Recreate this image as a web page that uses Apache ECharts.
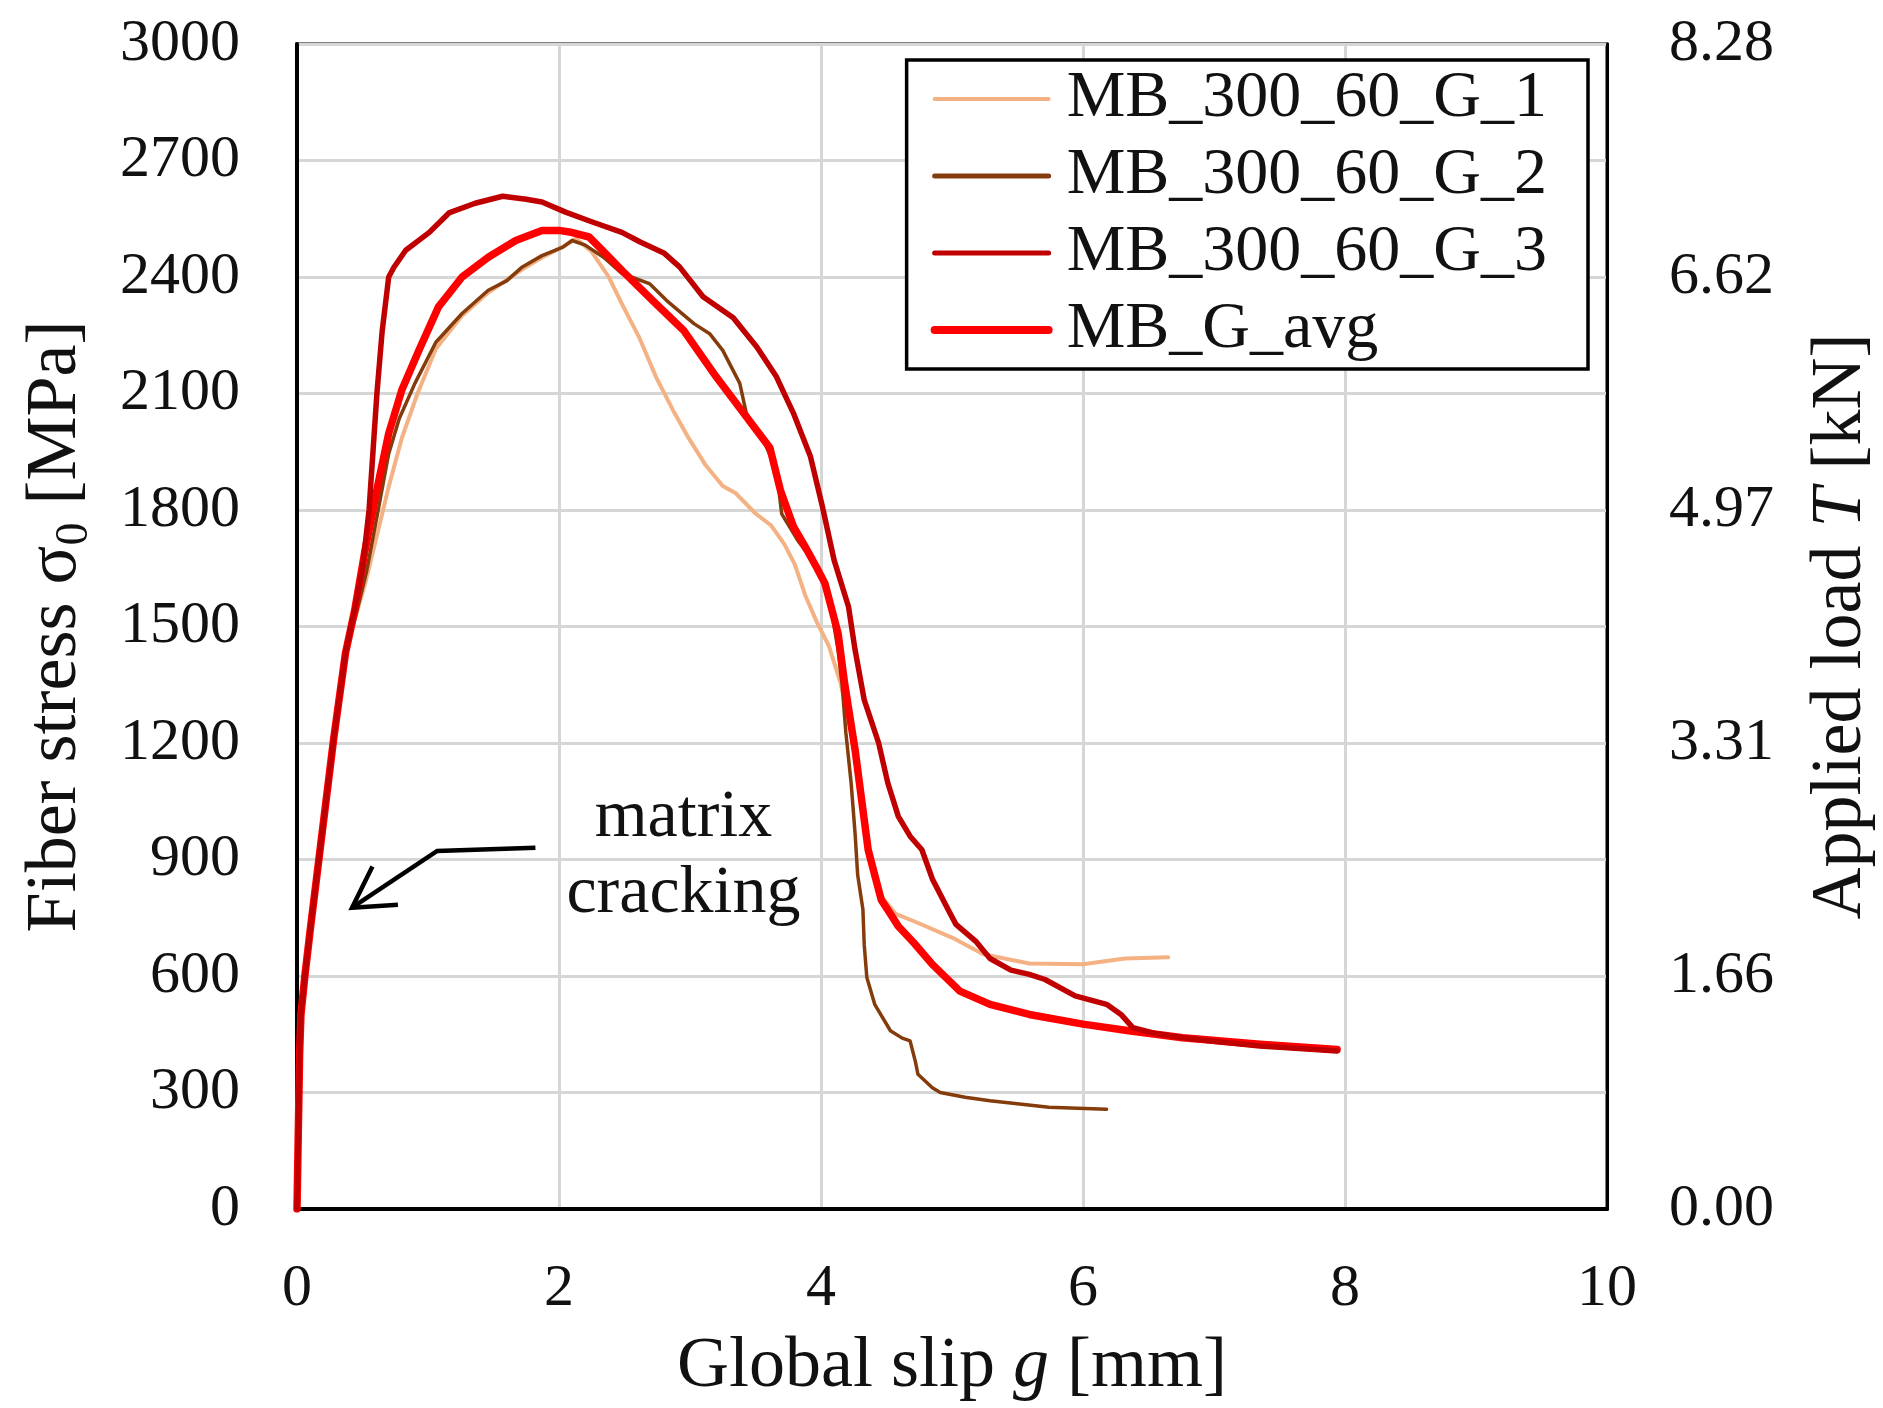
<!DOCTYPE html>
<html>
<head>
<meta charset="utf-8">
<title>Fiber stress vs global slip</title>
<script src="https://cdn.jsdelivr.net/npm/echarts@6/dist/echarts.min.js"></script>
<style>
  html, body { margin: 0; padding: 0; background: #fff; }
  #chart { width: 1883px; height: 1408px; }
</style>
</head>
<body>
<div id="chart"></div>
<script>
// Pull-out curves: [global slip g (mm), fiber stress σ0 (MPa)]
const specimenG1 = [
  [0,0],[0.01,200],[0.02,400],[0.03,500],[0.06,600],[0.10,716],[0.18,936],[0.28,1211],[0.37,1431],
  [0.45,1530],[0.52,1610],[0.60,1720],[0.70,1860],[0.80,1985],[0.92,2100],[1.06,2215],[1.26,2300],
  [1.46,2360],[1.72,2420],[1.87,2450],[2.03,2478],[2.13,2499],[2.25,2465],[2.38,2400],[2.48,2331],
  [2.61,2246],[2.74,2143],[2.87,2057],[2.99,1985],[3.12,1915],[3.25,1862],[3.35,1843],[3.50,1791],
  [3.62,1760],[3.72,1712],[3.80,1660],[3.88,1580],[3.97,1510],[4.06,1450],[4.15,1354],[4.23,1226],
  [4.30,1100],[4.36,940],[4.46,805],[4.57,760],[4.71,741],[5.00,699],[5.24,656],[5.59,632],
  [6.00,630],[6.32,645],[6.65,648]
];
const specimenG2 = [
  [0,0],[0.01,200],[0.02,400],[0.03,500],[0.06,600],[0.10,716],[0.18,936],[0.28,1211],[0.37,1431],
  [0.45,1530],[0.53,1640],[0.62,1800],[0.70,1945],[0.78,2035],[0.90,2126],[1.06,2232],[1.26,2306],
  [1.46,2366],[1.60,2390],[1.72,2426],[1.87,2455],[2.03,2477],[2.10,2494],[2.20,2482],[2.34,2451],
  [2.48,2409],[2.69,2383],[2.82,2340],[3.03,2280],[3.15,2254],[3.25,2211],[3.38,2126],[3.43,2049],
  [3.56,1980],[3.66,1903],[3.70,1790],[3.82,1723],[3.97,1654],[4.05,1600],[4.13,1440],[4.16,1354],
  [4.19,1226],[4.23,1097],[4.26,968],[4.28,860],[4.32,771],[4.33,680],[4.35,596],[4.41,527],
  [4.53,459],[4.62,440],[4.68,433],[4.72,380],[4.74,347],[4.85,312],[4.91,300],[5.10,288],
  [5.29,279],[5.74,262],[6.18,257]
];
const specimenG3 = [
  [0,0],[0.01,200],[0.02,400],[0.03,500],[0.06,600],[0.10,716],[0.18,936],[0.28,1211],[0.37,1431],
  [0.45,1560],[0.50,1650],[0.55,1800],[0.58,1950],[0.61,2100],[0.65,2260],[0.70,2400],[0.74,2425],
  [0.83,2469],[1.01,2515],[1.16,2565],[1.36,2590],[1.57,2608],[1.75,2600],[1.87,2593],[2.05,2567],
  [2.26,2541],[2.48,2515],[2.62,2490],[2.80,2462],[2.92,2426],[3.10,2349],[3.33,2295],[3.51,2220],
  [3.66,2143],[3.79,2049],[3.92,1937],[4.01,1810],[4.10,1671],[4.21,1551],[4.26,1440],[4.33,1311],
  [4.44,1200],[4.51,1097],[4.59,1011],[4.68,960],[4.77,925],[4.85,850],[4.97,771],[5.03,733],
  [5.18,690],[5.29,645],[5.45,615],[5.59,604],[5.71,591],[5.94,549],[6.18,527],[6.29,501],
  [6.38,467],[6.55,452],[6.76,441],[7.05,430],[7.35,420],[7.65,413],[7.94,407]
];
const averageG = [
  [0,0],[0.01,200],[0.02,400],[0.03,500],[0.06,600],[0.10,716],[0.18,936],[0.28,1211],[0.37,1431],
  [0.44,1541],[0.52,1697],[0.62,1869],[0.70,1997],[0.80,2109],[0.93,2211],[1.08,2323],[1.26,2400],
  [1.46,2451],[1.67,2494],[1.87,2520],[2.00,2520],[2.08,2516],[2.23,2503],[2.33,2469],[2.48,2417],
  [2.74,2331],[2.95,2263],[3.20,2143],[3.41,2049],[3.61,1960],[3.69,1851],[3.79,1757],[3.88,1705],
  [3.97,1650],[4.03,1611],[4.13,1483],[4.18,1354],[4.26,1183],[4.31,1054],[4.36,925],[4.41,860],
  [4.46,796],[4.53,760],[4.59,728],[4.71,685],[4.85,630],[5.06,561],[5.29,527],[5.59,501],
  [6.00,476],[6.35,459],[6.76,441],[7.35,424],[7.94,411]
];

const seriesNames = ['MB_300_60_G_1', 'MB_300_60_G_2', 'MB_300_60_G_3', 'MB_G_avg'];

// Axis ticks
const slipTicks = [0, 2, 4, 6, 8, 10];
const stressTicks = [0, 300, 600, 900, 1200, 1500, 1800, 2100, 2400, 2700, 3000];
const loadTickLabels = ['0.00', '1.66', '3.31', '4.97', '6.62', '8.28'];

// "matrix cracking" note: arrow polyline (tail -> bend -> tip) and text anchor, in data units
const noteArrow = [[1.82, 930], [1.07, 922], [0.42, 776]];
const noteText = [2.95, 908];

const SERIF = '"Liberation Serif", "Times New Roman", serif';
const INK = '#111';

const chart = echarts.init(document.getElementById('chart'), null, { renderer: 'canvas' });

function lineSeries(name, data, color, width, z) {
  return {
    name: name,
    type: 'line',
    data: data,
    symbol: 'none',
    showSymbol: false,
    smooth: false,
    z: z,
    lineStyle: { color: color, width: width, join: 'round', cap: 'round' },
    itemStyle: { color: color },
    emphasis: { disabled: true }
  };
}

function renderNote(params, api) {
  const pts = noteArrow.map(p => api.coord(p));
  const tip = pts[pts.length - 1];
  const prev = pts[pts.length - 2];
  const ang = Math.atan2(prev[1] - tip[1], prev[0] - tip[0]);
  const head = 46, spread = Math.PI / 6;
  const w1 = [tip[0] + head * Math.cos(ang - spread), tip[1] + head * Math.sin(ang - spread)];
  const w2 = [tip[0] + head * Math.cos(ang + spread), tip[1] + head * Math.sin(ang + spread)];
  const lineStyle = { stroke: '#000', lineWidth: 4.5, fill: null, lineJoin: 'miter', lineCap: 'butt' };
  const t = api.coord(noteText);
  return {
    type: 'group',
    children: [
      { type: 'polyline', shape: { points: pts }, style: lineStyle },
      { type: 'polyline', shape: { points: [w1, tip, w2] }, style: lineStyle },
      {
        type: 'text', x: t[0], y: t[1],
        style: {
          text: 'matrix\ncracking', fill: INK, fontFamily: SERIF, fontSize: 68,
          lineHeight: 76, align: 'center', verticalAlign: 'middle'
        }
      }
    ]
  };
}

const option = {
  backgroundColor: '#fff',
  animation: false,
  grid: {
    left: 297, right: 276, top: 44, bottom: 199,
    show: true, borderColor: '#000', borderWidth: 3,
    outerBoundsMode: 'none'
  },
  legend: {
    data: seriesNames.map((n, i) => ({
      name: n,
      lineStyle: { width: [4, 5, 5, 8][i] },
      itemStyle: { opacity: 0 }
    })),
    orient: 'vertical',
    right: 295, top: 60,
    itemWidth: 114, itemHeight: 2, itemGap: 11,
    padding: [6, 41, 6, 24],
    backgroundColor: '#fff',
    borderColor: '#000', borderWidth: 3.5,
    selectedMode: false,
    textStyle: {
      fontFamily: SERIF, fontSize: 66, color: INK, lineHeight: 66,
      padding: [0, 0, 0, 13]
    }
  },
  xAxis: {
    type: 'value', min: 0, max: 10, interval: 2,
    name: '{t|Global slip }{i|g}{t| [mm]}',
    nameLocation: 'middle', nameGap: 122,
    nameTextStyle: {
      rich: {
        t: { fontFamily: SERIF, fontSize: 72, color: INK },
        i: { fontFamily: SERIF, fontSize: 72, color: INK, fontStyle: 'italic' }
      }
    },
    axisLine: { show: true, onZero: false, lineStyle: { color: '#000', width: 4 } },
    axisTick: { show: false },
    axisLabel: {
      margin: 50, fontFamily: SERIF, fontSize: 60, color: INK,
      formatter: v => (slipTicks.indexOf(v) >= 0 ? String(v) : '')
    },
    splitLine: { show: true, lineStyle: { color: '#d6d6d6', width: 3 } }
  },
  yAxis: [
    {
      type: 'value', min: 0, max: 3000, interval: 300, position: 'left',
      name: '{t|Fiber stress σ}{s|0}{t| [MPa]}',
      nameLocation: 'middle', nameGap: 199, nameRotate: 90,
      nameTextStyle: {
        rich: {
          t: { fontFamily: SERIF, fontSize: 72, color: INK, lineHeight: 84 },
          s: { fontFamily: SERIF, fontSize: 46, color: INK, verticalAlign: 'bottom', lineHeight: 84 }
        }
      },
      axisLine: { show: true, onZero: false, lineStyle: { color: '#000', width: 4 } },
      axisTick: { show: false },
      axisLabel: {
        margin: 57, fontFamily: SERIF, fontSize: 60, color: INK,
        formatter: v => (stressTicks.indexOf(v) >= 0 ? String(v) : '')
      },
      splitLine: { show: true, lineStyle: { color: '#d6d6d6', width: 3 } }
    },
    {
      type: 'value', min: 0, max: 8.28, interval: 1.656, position: 'right',
      name: '{t|Applied load }{i|T}{t| [kN]}',
      nameLocation: 'middle', nameGap: 198, nameRotate: 90,
      nameTextStyle: {
        rich: {
          t: { fontFamily: SERIF, fontSize: 72, color: INK },
          i: { fontFamily: SERIF, fontSize: 72, color: INK, fontStyle: 'italic' }
        }
      },
      axisLine: { show: true, onZero: false, lineStyle: { color: '#000', width: 3 } },
      axisTick: { show: false },
      axisLabel: {
        margin: 62, fontFamily: SERIF, fontSize: 60, color: INK,
        formatter: v => loadTickLabels[Math.round(v / 1.656)]
      },
      splitLine: { show: false }
    }
  ],
  series: [
    lineSeries(seriesNames[0], specimenG1, '#F4B183', 4, 2),
    lineSeries(seriesNames[1], specimenG2, '#843C0C', 3.5, 3),
    lineSeries(seriesNames[3], averageG, '#FF0000', 7.5, 4),
    lineSeries(seriesNames[2], specimenG3, '#C00000', 5.5, 5),
    {
      type: 'custom',
      coordinateSystem: 'cartesian2d',
      silent: true,
      z: 6,
      data: [[0, 0]],
      renderItem: renderNote
    }
  ]
};

chart.setOption(option);
</script>
</body>
</html>
